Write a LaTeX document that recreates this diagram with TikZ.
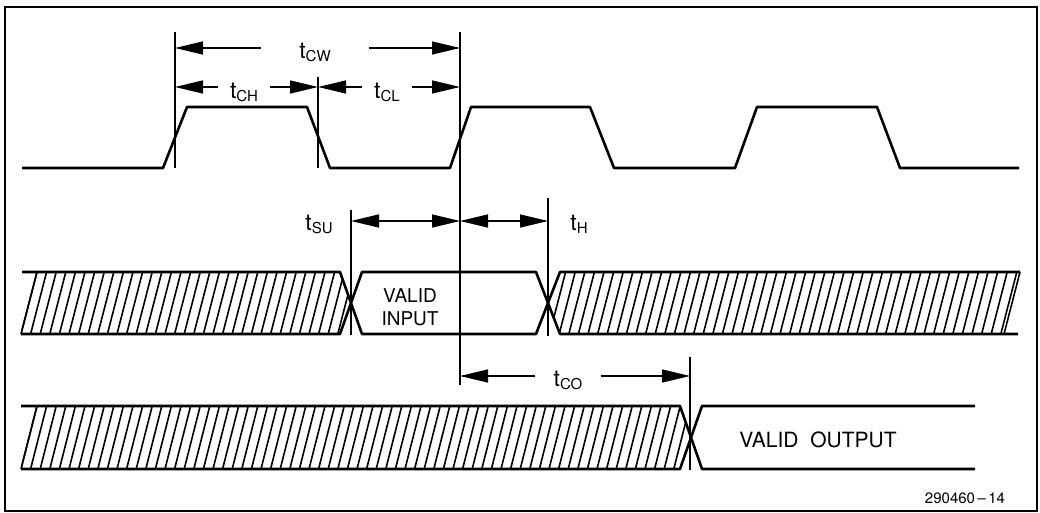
\documentclass[tikz,border=0pt]{standalone}
\usepackage{fontspec}
\setmainfont{TeX Gyre Heros}
\usepackage{tikz}
\usetikzlibrary{arrows.meta, positioning}

\newcommand{\tsym}[1]{{\fontsize{23}{23}\selectfont t}\raisebox{-3pt}{\fontsize{15}{15}\selectfont #1}}

\begin{document}
\begin{tikzpicture}[
    x=1pt, y=-1pt,
    signal/.style={line width=2.6pt, line join=round},
    guide/.style={line width=1.4pt},
    hatch/.style={line width=1.6pt},
    dim/.style={-{Triangle[length=28pt, width=13pt]}, line width=1.4pt},
    dimboth/.style={{Triangle[length=28pt, width=13pt]}-{Triangle[length=28pt, width=13pt]}, line width=1.4pt},
    tlabel/.style={inner sep=0pt, inner xsep=12pt},
    bustext/.style={font=\fontsize{19}{23}\selectfont, align=center}
]
\useasboundingbox (0,0) rectangle (1040,513);
\draw[line width=1.5pt] (5,7) rectangle (1037,511);

% clock
\draw[signal] (22,168) -- (163,168) -- (187,107) -- (307,107) -- (330,168) -- (450,168) -- (471,107)
    -- (590,107) -- (614,168) -- (735,168) -- (757,107) -- (877,107) -- (900,168) -- (1019,168);

% guide lines
\draw[guide] (175,32) -- (175,168);
\draw[guide] (318,77) -- (318,168);
\draw[guide] (460,32) -- (460,385);
\draw[guide] (351,210) -- (351,335);
\draw[guide] (548,198) -- (548,336);
\draw[guide] (690,357) -- (690,470);

\coordinate (cwL) at (175,48);
\coordinate (cwR) at (460,48);
\coordinate (chL) at (175,87);
\coordinate (chR) at (318,87);
\coordinate (clR) at (460,87);
\coordinate (suL) at (351,221);
\coordinate (suR) at (460,221);
\coordinate (hR) at (548,221);
\coordinate (coL) at (460,376);
\coordinate (coR) at (690,376);

% input bus
\begin{scope}
  \clip (21,334) -- (22,272) -- (340,272) -- (351,303) -- (340,334) -- cycle;
  \foreach \x in {21,30.6,...,360} \draw[hatch] (\x,334) -- ++(16,-62);
\end{scope}
\begin{scope}
  \clip (548,303) -- (560,272) -- (1020,272) -- (1004,334) -- (560,334) -- cycle;
  \foreach \x in {540,549.6,...,1010} \draw[hatch] (\x,334) -- ++(16,-62);
\end{scope}
\draw[hatch] (21,334) -- (37,272);
\draw[hatch] (1004,334) -- (1020,272);
\draw[signal] (22,272) -- (340,272) -- (362,334) -- (536,334) -- (560,272) -- (1020,272);
\draw[signal] (21,334) -- (340,334) -- (362,272) -- (536,272) -- (560,334) -- (1018,334);

% output bus
\begin{scope}
  \clip (21,469) -- (21,406) -- (680,406) -- (691,437.5) -- (680,469) -- cycle;
  \foreach \x in {21,30.6,...,700} \draw[hatch] (\x,469) -- ++(16,-63);
\end{scope}
\draw[hatch] (21,469) -- (37,406);
\draw[signal] (21,406) -- (680,406) -- (702,469) -- (975,469);
\draw[signal] (21,469) -- (680,469) -- (702,406) -- (975,406);

% timing labels
\node[tlabel, inner xsep=38pt] (tcw) at (315,52) {\tsym{CW}};
\draw[dim] (tcw.west |- cwL) -- (cwL);
\draw[dim] (tcw.east |- cwR) -- (cwR);

\node[tlabel] (tch) at (244,92) {\tsym{CH}};
\draw[dim] (tch.west |- chL) -- (chL);
\draw[dim] (tch.east |- chR) -- (chR);

\node[tlabel] (tcl) at (387,92) {\tsym{CL}};
\draw[dim] (tcl.west |- chR) -- (chR);
\draw[dim] (tcl.east |- clR) -- (clR);

\node (tsu) at (319,224) {\tsym{SU}};
\draw[dimboth] (suL) -- (suR);
\draw[dimboth] (suR) -- (hR);
\node (th) at (579,224) {\tsym{H}};

\node[tlabel, inner xsep=18pt] (tco) at (568,380) {\tsym{CO}};
\draw[dim] (tco.west |- coL) -- (coL);
\draw[dim] (tco.east |- coR) -- (coR);

% texts
\node[bustext] (vin) at (410,307) {VALID\\INPUT};
\node[font=\fontsize{21}{21}\selectfont] (vout) at (818,440) {VALID\ \ OUTPUT};
\node[font=\fontsize{15}{15}\selectfont] (fig) at (965,498) {290460\,--\,14};

\end{tikzpicture}
\end{document}
